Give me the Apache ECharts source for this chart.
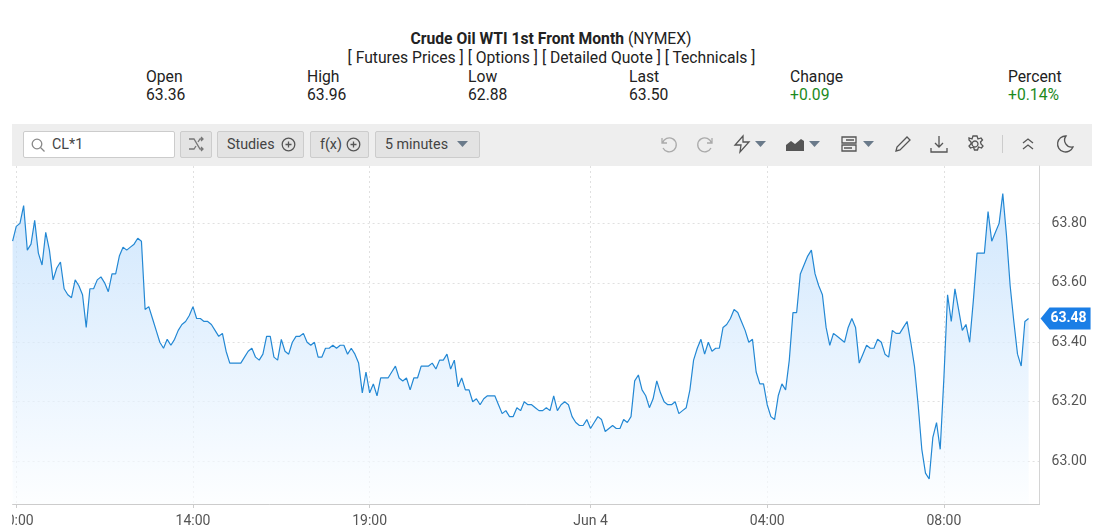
<!DOCTYPE html>
<html>
<head>
<meta charset="utf-8">
<title>Crude Oil WTI 1st Front Month</title>
<script src="https://cdn.jsdelivr.net/npm/echarts@6/dist/echarts.min.js"></script>
<style>
html,body{margin:0;padding:0;background:#fff;overflow:hidden;font-family:Roboto,sans-serif;color:#222}
.t{position:absolute;white-space:nowrap;font-size:15.7px;line-height:18px}
.up{color:#1d8a1d}
#bar{position:absolute;left:12px;top:124px;width:1080px;height:42px;background:#eee}
.btn{position:absolute;top:131px;height:27px;box-sizing:border-box;background:#e3e3e3;border:1px solid #ccc;border-radius:2px;font-size:14.3px;line-height:25px;color:#444;padding-left:9px;white-space:nowrap}
svg.ic{position:absolute;fill:none;stroke:#555;stroke-width:1.3}
#chart{position:absolute;left:12px;top:160px;width:1093px;height:369px}
</style>
</head>
<body>
<div class="t" style="left:0;width:1102px;top:30px;text-align:center"><b>Crude Oil WTI 1st Front Month</b> (NYMEX)</div>
<div class="t" style="left:0;width:1103px;top:49px;text-align:center">[ Futures Prices ] [ Options ] [ Detailed Quote ] [ Technicals ]</div>
<div id="quote"></div>
<div id="bar"></div>
<div class="btn" style="left:23px;width:152px;background:#fff;padding-left:28px">CL*1</div>
<svg class="ic" style="left:30px;top:137px;stroke:#888" width="16" height="16" viewBox="0 0 16 16"><circle cx="7" cy="7" r="4.8"/><path d="M10.500 10.500l4 4"/></svg>
<div class="btn" style="left:180px;width:32px"></div>
<svg class="ic" style="left:187px;top:136px;stroke:#777" width="18" height="17" viewBox="0 0 18 17"><path d="M2 3l5 0 6 10 3 0M2 13l5 0 2-3M11 6l2-3 3 0M14 1l2 2-2 2M14 11l2 2-2 2"/></svg>
<div class="btn" style="left:217px;width:87px">Studies</div>
<svg class="ic" style="left:281px;top:137px" width="15" height="15" viewBox="0 0 15 15"><circle cx="7.500" cy="7.500" r="6.300"/><path d="M7.500 4.500v6M4.500 7.500h6"/></svg>
<div class="btn" style="left:310px;width:59px">f(x)</div>
<svg class="ic" style="left:346px;top:137px" width="15" height="15" viewBox="0 0 15 15"><circle cx="7.500" cy="7.500" r="6.300"/><path d="M7.500 4.500v6M4.500 7.500h6"/></svg>
<div class="btn" style="left:375px;width:105px">5 minutes</div>
<svg style="position:absolute;left:457px;top:141px" width="11" height="6"><path d="M0 0h11L5.500 6z" fill="#6a7a8a"/></svg>
<div id="tools"></div>
<div id="chart"></div>
<script>
// quote strip
var quoteLabels = ['Open','High','Low','Last','Change','Percent'];
var quoteValues = ['63.36','63.96','62.88','63.50','+0.09','+0.14%'];
var quoteLeft = [146,307,468,629,790,1008];

// y axis ticks
var yTicks = [63.00,63.20,63.40,63.60,63.80];
var yMin = 62.856, yMax = 63.993;

// x axis ticks, 5 minute bars
var xTickIdx = [1,49,97,157,205,253];
var xTickText = ['10:00','14:00','19:00','Jun 4','04:00','08:00'];

var prices1 = [63.74,63.79,63.80,63.86,63.71,63.73,63.81,63.70,63.66,63.77,63.71,63.61,63.65,63.67,63.58,63.56,63.55,63.61,63.59,63.56,
	63.45,63.58,63.58,63.61,63.62,63.60,63.57,63.63,63.63,63.69,63.72,63.71,63.72,63.73,63.75,63.74,63.51,63.52,63.48,63.44,
	63.40,63.38,63.41,63.39,63.41,63.44,63.46,63.47,63.49,63.52,63.48,63.48,63.47,63.47,63.46,63.44,63.42,63.43,63.37,63.33,
	63.33,63.33,63.33,63.35,63.37,63.38,63.35,63.34,63.36,63.42];
var prices2 = [63.42,63.35,63.34,63.41,63.37,63.36,63.40,63.42,63.42,63.43,63.40,63.39,63.40,63.35,63.35,63.38,63.38,63.39,63.38,63.39,
	63.39,63.36,63.38,63.36,63.33,63.23,63.30,63.23,63.26,63.22,63.28,63.28,63.28,63.30,63.32,63.28,63.27,63.28,63.24,63.28,
	63.28,63.32,63.32,63.32,63.33,63.31,63.34,63.34,63.36,63.31,63.34,63.25,63.28,63.24,63.24,63.20,63.21,63.19,63.21,63.22,
	63.22,63.22,63.19,63.16,63.17,63.15];
var prices3 = [63.15,63.18,63.17,63.20,63.19,63.19,63.18,63.17,63.17,63.18,63.17,63.22,63.17,63.19,63.20,63.19,63.15,63.13,63.12,63.12,
	63.14,63.11,63.13,63.15,63.14,63.10,63.11,63.12,63.11,63.11,63.14,63.13,63.15,63.27,63.29,63.24,63.22,63.18,63.21,63.27,
	63.23,63.20,63.19,63.19,63.20,63.16,63.17,63.18,63.24,63.34,63.38,63.41,63.36,63.40,63.37,63.38,63.38,63.45,63.46,63.48,
	63.51,63.50];
var prices4 = [63.47,63.44,63.40,63.41,63.30,63.26,63.26,63.19,63.15,63.14,63.22,63.26,63.24,63.34,63.50,63.50,63.63,63.66,63.69,63.71,
	63.63,63.59,63.56,63.45,63.39,63.43,63.42,63.41,63.40,63.45,63.48,63.45,63.33,63.36,63.39,63.38,63.38,63.41,63.40,63.36,
	63.35,63.44,63.43,63.43,63.45,63.47,63.40,63.32,63.19,63.04,62.96,62.94,63.08,63.13,63.04,63.28,63.56,63.47,63.58,63.51,
	63.44,63.46,63.40,63.54,63.70,63.70,63.70,63.84,63.74,63.77,63.80,63.90,63.76,63.59,63.47,63.36,63.32,63.47,63.48];
var prices = prices1.concat(prices2,prices3,prices4);
var lastPrice = prices[prices.length-1];
var emptyBars = 3; // room on the right of the last bar

// categories, market shut 17:00-18:00
var categories = [];
var mins = 9*60+55;
for(var i=0;i<prices.length+emptyBars;i++){
	if(Math.floor(mins/60)%24==17) mins+=60;
	var h = Math.floor(mins/60)%24, m = mins%60;
	categories.push((h<10?'0':'')+h+':'+(m<10?'0':'')+m);
	mins+=5;
}
var lineData = prices.slice();
for(var i=0;i<emptyBars;i++) lineData.push(null);

// header
var html = '';
for(var i=0;i<quoteLabels.length;i++){
	var cls = i>=4 ? 't up' : 't';
	html += '<div class="t" style="left:'+quoteLeft[i]+'px;top:68px">'+quoteLabels[i]+'</div>';
	html += '<div class="'+cls+'" style="left:'+quoteLeft[i]+'px;top:86px">'+quoteValues[i]+'</div>';
}
document.getElementById('quote').innerHTML = html;

// toolbar icons
var tools = [
	[658,'#aaa','M4 4v5h5M4.500 9a7 7 0 1 1 .5 5'],
	[696,'#aaa','M16 4v5h-5M15.500 9a7 7 0 1 0-.5 5'],
	[732,'#555','M11 2L3 11h6l-1 7 9-10h-6z'],
	[893,'#555','M3 17l1-4L14 3l3 3L7 16z'],
	[929,'#555','M10 2v11M6 9l4 4 4-4M2 14v4h16v-4'],
	[965,'#555','M10 2l2 0 1 3 3-1 1.500 2-2 2 .5 2 2 2-1.500 2-3-1-1 3h-3l-1-3-3 1-1.500-2 2-2v-2l-2-2L4 4l3 1 1-3zM10 7a3 3 0 1 0 .01 0'],
	[1018,'#555','M5 9l5-4 5 4M5 15l5-4 5 4'],
	[1055,'#555','M11 2a8 8 0 1 0 7 11 7 7 0 0 1-7-11z']
];
var toolHtml = '';
for(var i=0;i<tools.length;i++){
	toolHtml += '<svg class="ic" style="left:'+tools[i][0]+'px;top:134px;stroke:'+tools[i][1]+'" width="20" height="20" viewBox="0 0 20 20"><path d="'+tools[i][2]+'"/></svg>';
}
toolHtml += '<svg class="ic" style="left:786px;top:137px;stroke:none;fill:#555" width="19" height="14" viewBox="0 0 19 14"><path d="M0 8l5-4 4 3 6-5 3 2v10H0z"/></svg>';
toolHtml += '<svg class="ic" style="left:841px;top:136px" width="16" height="16" viewBox="0 0 16 16"><path d="M1 1h14v6H1zM1 9h14v6H1zM5 4h8M3 12h8"/></svg>';
var carets = [755,809,863];
for(var i=0;i<carets.length;i++){
	toolHtml += '<svg style="position:absolute;left:'+carets[i]+'px;top:141px" width="11" height="6"><path d="M0 0h11L5.500 6z" fill="#6a7a8a"/></svg>';
}
toolHtml += '<div style="position:absolute;left:1002px;top:135px;width:1px;height:18px;background:#ccc"></div>';
document.getElementById('tools').innerHTML = toolHtml;

var myChart = echarts.init(document.getElementById('chart'));
var showTick = function(index){
	return xTickIdx.indexOf(index)>=0;
};
var option = {
	animation: false,
	grid: {left:0.6, right:65.4, top:6, bottom:25, outerBoundsMode:'none'},
	xAxis: {
		type: 'category',
		data: categories,
		boundaryGap: false,
		axisLine: {lineStyle:{color:'#ccc'}},
		axisTick: {interval:showTick, length:4, lineStyle:{color:'#ccc'}},
		axisLabel: {
			interval: showTick,
			color: '#555',
			fontFamily: 'Roboto',
			fontSize: 14,
			margin: 10,
			formatter: function(value,index){
				return xTickText[xTickIdx.indexOf(index)];
			}
		},
		splitLine: {show:true, interval:showTick, lineStyle:{color:'#e0e0e0', type:[2,3]}}
	},
	yAxis: {
		type: 'value',
		position: 'right',
		min: yMin,
		max: yMax,
		axisLine: {show:true, lineStyle:{color:'#d4d4d4'}},
		axisTick: {show:false, customValues:yTicks},
		axisLabel: {
			customValues: yTicks,
			color: '#555',
			fontFamily: 'Roboto',
			fontSize: 14,
			margin: 12,
			padding: [2,0,0,0],
			formatter: function(v){return v.toFixed(2);}
		},
		splitLine: {show:true, lineStyle:{color:'#e0e0e0', type:[2,3]}}
	},
	series: [{
		type: 'line',
		data: lineData,
		symbol: 'none',
		lineStyle: {color:'#2388d4', width:1.2},
		areaStyle: {
			color: new echarts.graphic.LinearGradient(0,0,0,1,[
				{offset:0,color:'#bcdcfb'},
				{offset:1,color:'#fbfdff'}
			])
		},
		markPoint: {
			silent: true,
			symbol: 'path://M0 11L9 0L50 0L50 22L9 22Z',
			symbolSize: [50,22],
			symbolOffset: [37,0],
			itemStyle: {color:'#1a7ee6'},
			label: {
				show: true,
				color: '#fff',
				fontFamily: 'Roboto',
				fontWeight: 'bold',
				fontSize: 14,
				offset: [3,0],
				formatter: function(){return lastPrice.toFixed(2);}
			},
			data: [{coord:[prices.length-1,lastPrice]}]
		}
	}]
};
myChart.setOption(option);
</script>
</body>
</html>
